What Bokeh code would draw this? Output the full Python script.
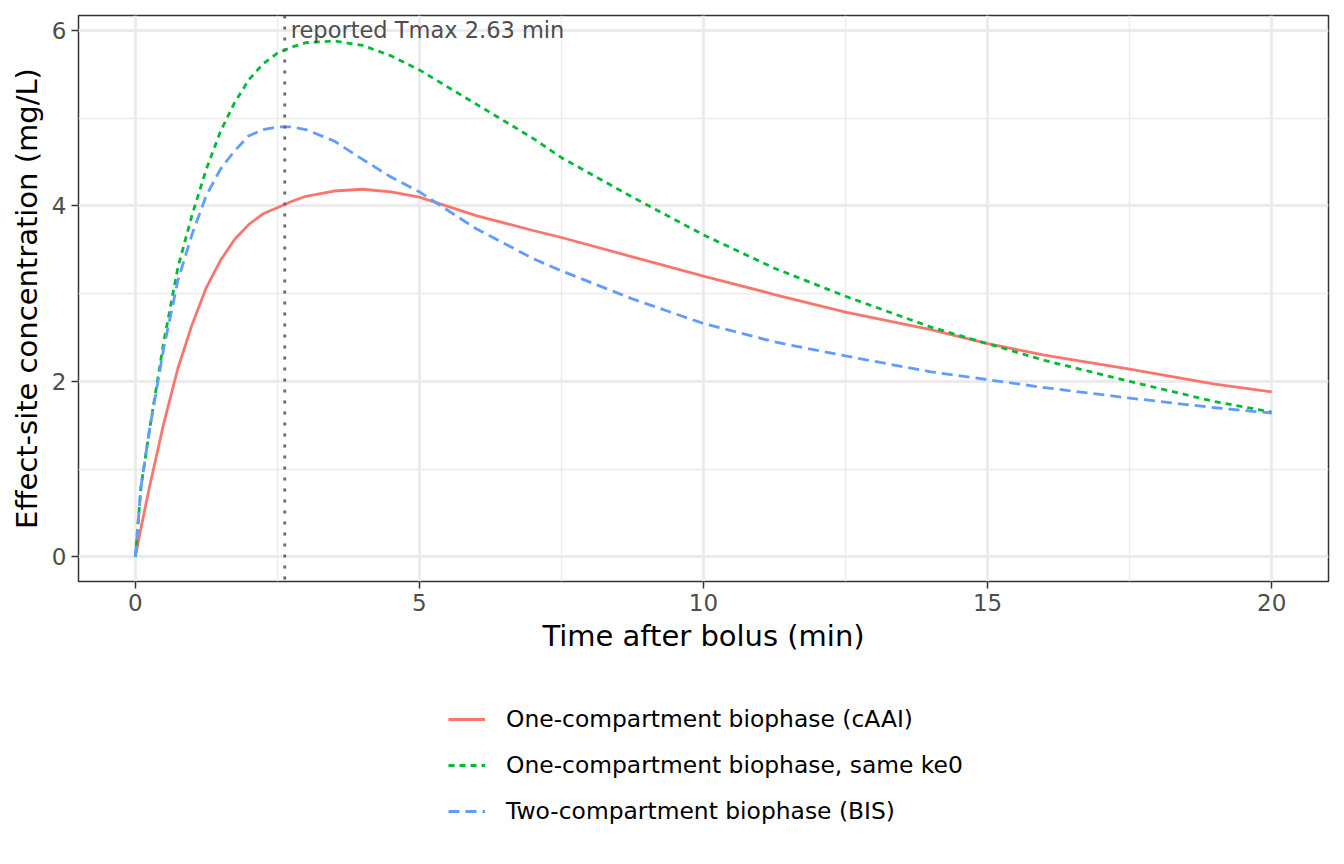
from bokeh.plotting import figure
from bokeh.models import FixedTicker, Legend, LegendItem, Span, Label
from bokeh.layouts import column
from bokeh.embed import file_html
from bokeh.resources import INLINE

# values
time_min = [0, 0.1, 0.25, 0.5, 0.75, 1, 1.25, 1.5, 1.75, 2, 2.25, 2.5, 2.75, 3, 3.5, 4, 4.5, 5,
            6, 7, 7.5, 8.75, 10, 11.25, 12.5, 14, 15, 16, 17.5, 19, 20]
one_comp_caai = [0, 0.33, 0.8, 1.52, 2.15, 2.65, 3.07, 3.38, 3.62, 3.79, 3.91, 3.98, 4.05, 4.11, 4.17, 4.19, 4.16, 4.1,
                 3.89, 3.72, 3.64, 3.42, 3.2, 2.99, 2.79, 2.59, 2.43, 2.3, 2.14, 1.97, 1.88]
one_comp_same_ke0 = [0, 0.8, 1.45, 2.45, 3.3, 3.9, 4.42, 4.85, 5.18, 5.44, 5.62, 5.74, 5.81, 5.86, 5.88, 5.83, 5.71, 5.55,
                     5.16, 4.77, 4.55, 4.1, 3.67, 3.29, 2.97, 2.62, 2.43, 2.24, 2.0, 1.77, 1.65]
two_comp_bis = [0, 0.8, 1.45, 2.38, 3.15, 3.68, 4.12, 4.42, 4.63, 4.8, 4.87, 4.9, 4.9, 4.87, 4.74, 4.53, 4.33, 4.16,
                3.74, 3.4, 3.26, 2.94, 2.66, 2.45, 2.29, 2.11, 2.02, 1.93, 1.81, 1.7, 1.64]

series_labels = ["One-compartment biophase (cAAI)",
                 "One-compartment biophase, same ke0",
                 "Two-compartment biophase (BIS)"]
series_colors = ["#F8766D", "#00BA38", "#619CFF"]
series_dashes = ["solid", "6 5", "11 6"]

x_major = [0, 5, 10, 15, 20]
x_minor = [2.5, 7.5, 12.5, 17.5]
y_major = [0, 2, 4, 6]
y_minor = [1, 3, 5]

tmax_reported = 2.63

FONT = "DejaVu Sans"

p = figure(width=1336, height=670,
           x_range=(-1, 21), y_range=(-0.28, 6.17),
           x_axis_label="Time after bolus (min)",
           y_axis_label="Effect-site concentration (mg/L)",
           output_backend="svg", toolbar_location=None,
           min_border_left=78, min_border_right=8,
           min_border_top=15, min_border_bottom=89)

p.background_fill_color = "white"
p.border_fill_color = "white"
p.outline_line_color = "#333333"
p.outline_line_width = 1.5

x_ticker = FixedTicker(ticks=x_major, minor_ticks=x_minor)
y_ticker = FixedTicker(ticks=y_major, minor_ticks=y_minor)
p.xaxis.ticker = x_ticker
p.xgrid.ticker = x_ticker
p.yaxis.ticker = y_ticker
p.ygrid.ticker = y_ticker

for axis in (p.xaxis, p.yaxis):
    axis.axis_line_color = None
    axis.major_tick_line_color = "#333333"
    axis.major_tick_line_width = 1.5
    axis.major_tick_out = 7
    axis.major_tick_in = 0
    axis.minor_tick_line_color = None
    axis.major_label_standoff = 5
    axis.major_label_text_font = FONT
    axis.major_label_text_font_size = "23px"
    axis.major_label_text_color = "#4D4D4D"
    axis.axis_label_standoff = 5
    axis.axis_label_text_font = FONT
    axis.axis_label_text_font_size = "29px"
    axis.axis_label_text_font_style = "normal"
    axis.axis_label_text_color = "black"

for grid in (p.xgrid, p.ygrid):
    grid.grid_line_color = "#EBEBEB"
    grid.grid_line_width = 2.8
    grid.minor_grid_line_color = "#EBEBEB"
    grid.minor_grid_line_width = 1.4

series_values = [one_comp_caai, one_comp_same_ke0, two_comp_bis]
for values, color, dash in zip(series_values, series_colors, series_dashes):
    p.line(time_min, values, color=color, line_width=2.8, line_join="round", line_dash=dash)

tmax_line = Span(location=tmax_reported, dimension="height", line_color="#666666",
                 line_width=2.8, line_dash="3 8")
p.add_layout(tmax_line)

tmax_label = Label(x=tmax_reported, y=6, x_offset=6, text=f"reported Tmax {tmax_reported} min",
                   text_font=FONT, text_font_size="22.5px", text_color="#4D4D4D",
                   text_align="left", text_baseline="middle")
p.add_layout(tmax_label)

# legend sits in its own strip under the plot, like ggplot's bottom legend.
# the strip's range is set away from the data so only the legend keys show
leg = figure(width=1336, height=186, x_range=(100, 101), y_range=(100, 101),
             output_backend="svg", toolbar_location=None,
             x_axis_location=None, y_axis_location=None, min_border=0)
leg.outline_line_color = None
leg.xgrid.visible = False
leg.ygrid.visible = False

items = []
for label, values, color, dash in zip(series_labels, series_values, series_colors, series_dashes):
    r = leg.line(time_min, values, color=color, line_width=2.8, line_dash=dash)
    items.append(LegendItem(label=label, renderers=[r]))

legend = Legend(items=items, location=(370, 30), orientation="vertical",
                glyph_width=37, glyph_height=30, label_height=30,
                label_standoff=21, spacing=16, padding=0, margin=0,
                border_line_color=None, background_fill_alpha=0,
                label_text_font=FONT, label_text_font_size="23.4px",
                label_text_color="black")
leg.add_layout(legend)

layout = column(p, leg)

open("out.html", "w").write(file_html(layout, INLINE))
